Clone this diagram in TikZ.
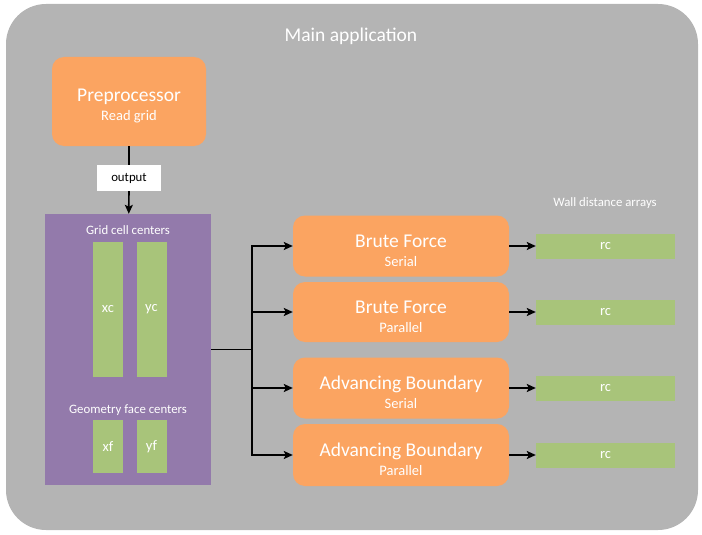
\documentclass[tikz,border=0pt]{standalone}
\usepackage{fontspec}
\setmainfont{Carlito}
\usetikzlibrary{positioning,arrows.meta}
\definecolor{appgray}{HTML}{B4B4B4}
\definecolor{boxorange}{HTML}{FBA461}
\definecolor{datapurple}{HTML}{937AAB}
\definecolor{arraygreen}{HTML}{A8C47A}
\newcommand{\bigtxt}{\fontsize{19.5}{20}\selectfont}
\newcommand{\midtxt}{\fontsize{14.5}{19}\selectfont}
\newcommand{\smalltxt}{\fontsize{12.8}{14}\selectfont}
\begin{document}
\begin{tikzpicture}[x=1pt, y=-1pt,
        every node/.style = {text=white, inner sep=0pt, align=center, font=\midtxt},
        stage/.style = {fill=boxorange, rounded corners=12pt, text height=41pt,
            minimum width=216pt, minimum height=61pt},
        array/.style = {fill=arraygreen, minimum width=30pt},
        result/.style = {fill=arraygreen, minimum width=139pt, minimum height=25pt},
        link/.style = {line width=1.7pt, -{Stealth[length=9pt,width=8pt,inset=2pt]}}]
    \useasboundingbox (0,0) rectangle (702,535);
    % main application frame
    \fill[appgray, rounded corners=40pt] (6,4) rectangle (698,530);
    \node[font=\fontsize{19.5}{20}\selectfont] (title) at (351,36) {Main application};

    % preprocessor and its output
    \node[stage, minimum width=154pt, minimum height=89pt] (pre) at (129,101.5)
        {{\bigtxt Preprocessor}\\Read grid};
    \node[fill=white, text=black, font=\smalltxt, minimum width=64pt, minimum height=26pt]
        (out) at (129,178) {output};
    \node[fill=datapurple, minimum width=166pt, minimum height=271pt] (grid) at (128,349.5) {};
    \node[font=\smalltxt] (cells) at (128,230) {Grid cell centers};
    \node[array, minimum height=135pt] (xc) at (108,309.5) {xc};
    \node[array, minimum height=135pt] (yc) at (151.5,309.5) {yc};
    \node[font=\smalltxt] (faces) at (128,410) {Geometry face centers};
    \node[array, minimum height=53pt] (xf) at (108,446.5) {xf};
    \node[array, minimum height=53pt] (yf) at (151.5,446.5) {yf};

    % wall distance methods
    \node[stage] (bfs) at (401,246) {{\bigtxt Brute Force}\\Serial};
    \node[stage, minimum height=60pt] (bfp) at (401,312) {{\bigtxt Brute Force}\\Parallel};
    \node[stage] (abs) at (401,388) {{\bigtxt Advancing Boundary}\\Serial};
    \node[stage, minimum height=62pt] (abp) at (401,455) {{\bigtxt Advancing Boundary}\\Parallel};

    % wall distance arrays
    \node[font=\smalltxt] (walls) at (605,203) {Wall distance arrays};
    \node[result] (rc1) at (605.5,246) {rc};
    \node[result] (rc2) at (605.5,312) {rc};
    \node[result] (rc3) at (605.5,388) {rc};
    \node[result] (rc4) at (605.5,455) {rc};

    % connectors
    \draw[line width=1.7pt] (pre) -- (out);
    \draw[link] (out) -- (grid);
    \coordinate (split) at (252,349.5);
    \draw[line width=1.7pt] (grid.east) -- (split);
    \foreach \m/\r in {bfs/rc1, bfp/rc2, abs/rc3, abp/rc4} {
        \draw[link] (split) |- (\m.west);
        \draw[link] (\m) -- (\r);
    }
\end{tikzpicture}
\end{document}
